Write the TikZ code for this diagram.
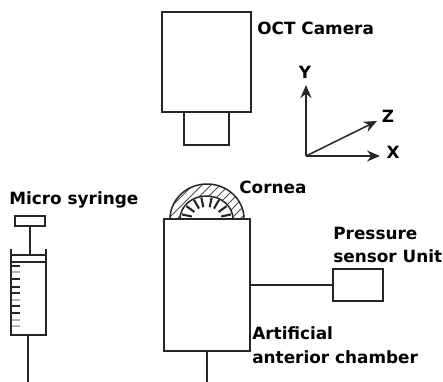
\documentclass[tikz,border=0pt]{standalone}
\usepackage{fontspec}
\setmainfont{DejaVu Sans}
\usetikzlibrary{calc,arrows.meta}
\tikzset{
    part/.style={draw=black!85,line width=0.85pt,fill=white},
    wire/.style={draw=black!85,line width=0.85pt},
    axis/.style={-{Stealth[length=2.6mm,width=2.2mm]},draw=black!85,line width=0.85pt},
    tag/.style={font=\bfseries\fontsize{9.6}{13.6}\selectfont,align=left,anchor=west,inner sep=0pt},
}
\begin{document}
\begin{tikzpicture}[x=0.02cm,y=-0.02cm]
  \useasboundingbox (0,0) rectangle (443,382);
  % Camera
  \draw[part] (162,12) rectangle (251,112);
  \draw[part] (184,112) rectangle (229,145);
  \node[tag] (camera_label) at (257,28) {OCT Camera};
  % Axes
  \coordinate (O) at (306,156);
  \coordinate (Y) at (306,85);
  \coordinate (X) at (380,156);
  \coordinate (Z) at (377,121);
  \draw[axis] (O) -- (Y);
  \draw[axis] (O) -- (X);
  \draw[axis] (O) -- (Z);
  \node[tag,anchor=center] (y_label) at (305,72) {Y};
  \node[tag,anchor=center] (x_label) at (393,152) {X};
  \node[tag,anchor=center] (z_label) at (388,116) {Z};
  % Cornea
  \begin{scope}
    \clip (170,219) arc (180:360:37 and 35) -- cycle;
    \foreach \x in {150,159,...,260}
      \draw[line width=0.5pt,black!70] (\x,219) -- (\x+36,183);
  \end{scope}
  \draw[wire] (170,219) arc (180:360:37 and 35);
  \draw[wire,fill=white] (180,219) arc (180:360:26.5 and 23) -- cycle;
  \foreach \a in {12,36,60,78,102,120,144,168}
    \draw[line width=1.2pt,black!85] ($(206.5,219)+(\a:25 and -22)$) -- ($(206.5,219)+(\a:15 and -12)$);
  % Chamber
  \node[part,minimum width=1.72cm,minimum height=2.64cm,inner sep=0pt] (chamber) at (207,285) {};
  \node[part,minimum width=1cm,minimum height=0.64cm,inner sep=0pt] (sensor) at (358,285) {};
  \coordinate (chamber_end) at (207,382);
  \draw[wire] (chamber) -- (sensor);
  \draw[wire] (chamber.south) -- (chamber_end);
  \node[tag] (cornea_label) at (239,187) {Cornea};
  \node[tag] (sensor_label) at (333,245) {Pressure\\sensor Unit};
  \node[tag] (chamber_label) at (252,345) {Artificial\\anterior chamber};
  % Syringe
  \node[part,minimum width=0.6cm,minimum height=0.2cm,inner sep=0pt] (handle) at (30,221) {};
  \coordinate (rod_end) at (30,255);
  \draw[wire] (handle) -- (rod_end);
  \draw[wire] (11,249) -- (11,335) -- (46,335) -- (46,249);
  \draw[wire] (11,255) -- (46,255);
  \draw[wire] (11,262) -- (46,262);
  \foreach \y/\c in {266/85,272/30,279/85,287/85,293/85,300/30,306/85,313/85,320/30,326/30}
    \draw[line width=0.8pt,black!\c] (12,\y) -- (20,\y);
  \coordinate (needle_top) at (28,335);
  \coordinate (needle_end) at (28,382);
  \draw[wire] (needle_top) -- (needle_end);
  \node[tag] (syringe_label) at (9,200) {Micro syringe};
\end{tikzpicture}
\end{document}
